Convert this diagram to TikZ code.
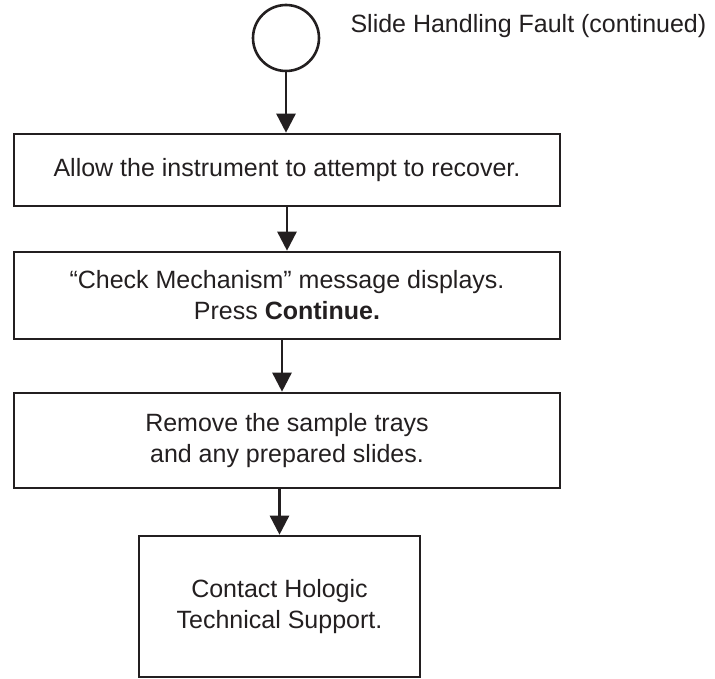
\documentclass[tikz,border=0pt]{standalone}
\usepackage{fontspec}
\setmainfont{Liberation Sans}
\usepackage{tikz}
\usetikzlibrary{arrows.meta,positioning}
\usepackage{xcolor}
\definecolor{inkdark}{RGB}{35,31,32}

\begin{document}
\begin{tikzpicture}[x=1pt, y=-1pt, every node/.style={font=\fontsize{25}{31}\selectfont, text=inkdark}]
\useasboundingbox (0,0) rectangle (715,679);
\tikzset{
  stepbox/.style={draw=inkdark, line width=2.6pt, align=center, inner sep=0pt, minimum width=546pt},
  flowarrow/.style={draw=inkdark, line width=2.6pt, -{Triangle[length=19pt, width=19pt]}}
}
\node[draw=inkdark, line width=2.6pt, circle, minimum size=66pt, inner sep=0pt] (start) at (286,38) {};
\node[anchor=base west] (title) at (347,33) {Slide Handling Fault (continued)};
\node[stepbox, minimum height=72pt] (recover) at (287,170) {Allow the instrument to attempt to recover.};
\node[stepbox, minimum height=87pt] (check) at (287,295.5) {“Check Mechanism” message displays.\\ Press \textbf{Continue.}};
\node[stepbox, minimum height=95pt] (remove) at (287,440.5) {Remove the sample trays\\ and any prepared slides.};
\node[stepbox, minimum width=281pt, minimum height=141pt] (contact) at (279.5,606.5) {Contact Hologic\\ Technical Support.};
\draw[flowarrow] (start.south) -- (start |- recover.north);
\draw[flowarrow] (recover.south) -- (check.north);
\draw[flowarrow] ([xshift=-5pt]check.south) -- ([xshift=-5pt]remove.north);
\draw[flowarrow] (contact.north |- remove.south) -- (contact.north);
\end{tikzpicture}
\end{document}
